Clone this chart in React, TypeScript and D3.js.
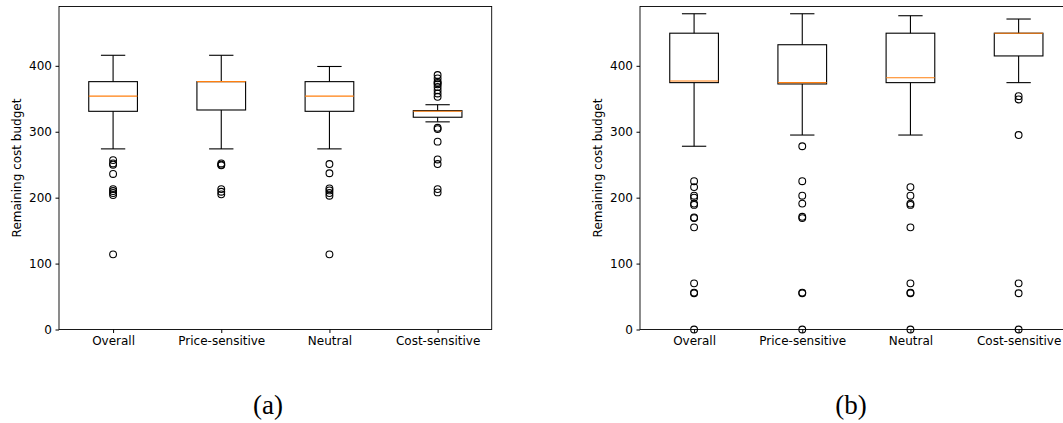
import React, { useEffect, useRef } from 'react';
import * as d3 from 'd3';

// categories shared by both panels
const categories = ['Overall', 'Price-sensitive', 'Neutral', 'Cost-sensitive'];
const yTicks = [0, 100, 200, 300, 400];

// panel (a): [lowWhisker, q1, median, q3, highWhisker]
const statsA = [
  [274, 331, 354, 376, 416],
  [274, 333, 376, 376, 416],
  [274, 331, 354, 376, 399],
  [315, 322, 331, 332, 341],
];
const outliersA = [
  [257, 252, 250, 236, 213, 210, 207, 204, 114],
  [252, 250, 249, 213, 209, 205],
  [251, 237, 214, 211, 207, 203, 114],
  [386, 381, 376, 374, 372, 368, 363, 358, 353, 306, 304, 285, 258, 251, 213, 208],
];

// panel (b)
const statsB = [
  [278, 374.5, 377, 449.5, 479],
  [295, 372.5, 374.5, 432, 479],
  [295, 374.5, 382, 449.5, 476],
  [374.5, 415, 449.5, 449.5, 471],
];
const outliersB = [
  [225, 216, 203, 200, 191, 189, 170, 169, 155, 70, 56, 55, 0],
  [278, 225, 203, 191, 171, 169, 56, 55, 0],
  [216, 203, 191, 189, 155, 70, 56, 55, 0],
  [354, 349, 295, 70, 55, 0],
];

const Panel = ({ x0, stats, outliers, label, labelX }: any) => {
  const ref = useRef<SVGGElement>(null);

  useEffect(() => {
    const g = d3.select(ref.current);
    g.selectAll('*').remove();
    const width = 432.7;
    const top = 6.5;
    const bottom = 329.5;

    const x = d3.scaleLinear().domain([0.5, 4.5]).range([0, width]);
    const y = d3.scaleLinear().domain([0, 490]).range([bottom, top]);
    const boxW = x(1.45) - x(1);
    const capW = boxW / 2;

    const root = g.append('g').attr('transform', `translate(${x0},0)`);

    // boxes
    stats.forEach((s: number[], i: number) => {
      const cx = x(i + 1);
      const [lo, q1, med, q3, hi] = s;
      const b = root.append('g').attr('stroke', '#000').attr('stroke-width', 1.1).attr('fill', 'none');
      b.append('line').attr('x1', cx).attr('x2', cx).attr('y1', y(q1)).attr('y2', y(lo));
      b.append('line').attr('x1', cx).attr('x2', cx).attr('y1', y(q3)).attr('y2', y(hi));
      b.append('line').attr('x1', cx - capW / 2).attr('x2', cx + capW / 2).attr('y1', y(lo)).attr('y2', y(lo));
      b.append('line').attr('x1', cx - capW / 2).attr('x2', cx + capW / 2).attr('y1', y(hi)).attr('y2', y(hi));
      b.append('rect')
        .attr('x', cx - boxW / 2)
        .attr('width', boxW)
        .attr('y', y(q3))
        .attr('height', y(q1) - y(q3));
      root.append('line')
        .attr('x1', cx - boxW / 2).attr('x2', cx + boxW / 2)
        .attr('y1', y(med)).attr('y2', y(med))
        .attr('stroke', '#ff7f0e').attr('stroke-width', 1.1);

      root.selectAll(null)
        .data(outliers[i])
        .enter()
        .append('circle')
        .attr('cx', cx)
        .attr('cy', (d: number) => y(d))
        .attr('r', 3.4)
        .attr('fill', 'none')
        .attr('stroke', '#000')
        .attr('stroke-width', 1.1);
    });

    // frame
    root.append('rect')
      .attr('x', 0).attr('y', top)
      .attr('width', width).attr('height', bottom - top)
      .attr('fill', 'none').attr('stroke', '#000').attr('stroke-width', 0.9);

    // y axis
    const yAxis = root.append('g').call(
      d3.axisLeft(y).tickValues(yTicks).tickSize(3.5).tickPadding(3.5).tickFormat(d3.format('d'))
    );
    yAxis.select('.domain').remove();
    yAxis.selectAll('text').style('font-family', '"DejaVu Sans"').style('font-size', '12px').attr('fill', '#000');

    // x axis
    const xAxis = root.append('g')
      .attr('transform', `translate(0,${bottom})`)
      .call(
        d3.axisBottom(x).tickValues([1, 2, 3, 4]).tickSize(3.5).tickPadding(3)
          .tickFormat((d: any) => categories[d - 1])
      );
    xAxis.select('.domain').remove();
    xAxis.selectAll('text').style('font-family', '"DejaVu Sans"').style('font-size', '12px').attr('fill', '#000');

    root.append('text')
      .attr('transform', `translate(-38.5,${(top + bottom) / 2}) rotate(-90)`)
      .attr('text-anchor', 'middle')
      .style('font-family', '"DejaVu Sans"')
      .style('font-size', '12px')
      .text('Remaining cost budget');

    g.append('text')
      .attr('x', labelX)
      .attr('y', 414)
      .attr('text-anchor', 'middle')
      .style('font-family', '"Liberation Serif", serif')
      .style('font-size', '27px')
      .text(label);
  }, []);

  return <g ref={ref}></g>;
};

const App = () => {
  return (
    <div style={{ width: 1063, height: 423, overflow: 'hidden' }}>
      <style>{`body { margin: 0; background: #fff; }`}</style>
      <svg width={1063} height={423} style={{ display: 'block', background: '#fff' }}>
        <Panel x0={59} stats={statsA} outliers={outliersA} label="(a)" labelX={268} />
        <Panel x0={640} stats={statsB} outliers={outliersB} label="(b)" labelX={851} />
      </svg>
    </div>
  );
};

export default App;
